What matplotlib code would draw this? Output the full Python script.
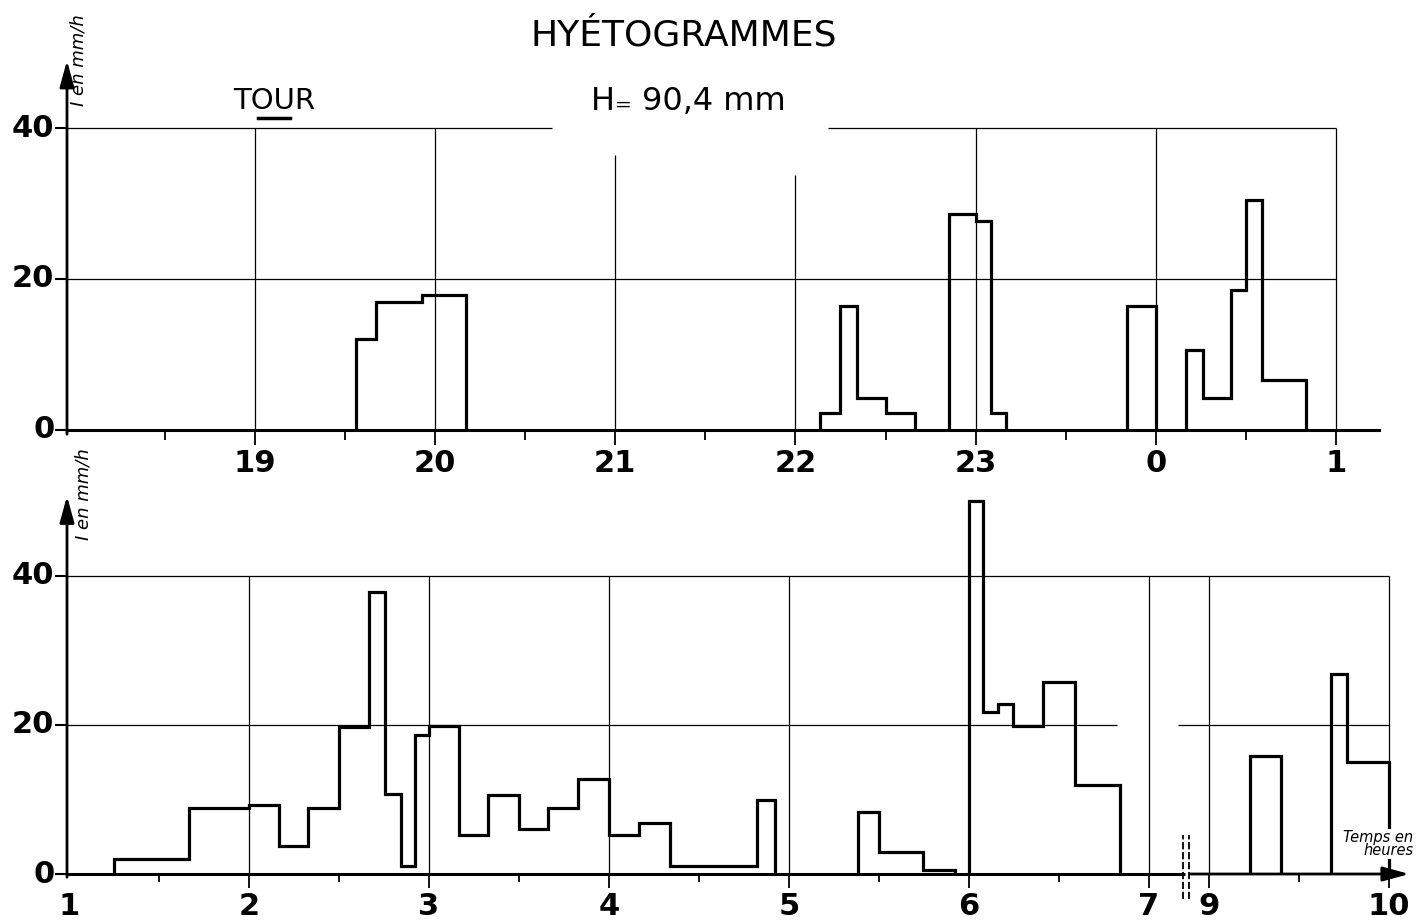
import matplotlib.pyplot as plt

# --- data (intensity in mm/h) ---
# top panel: evening of day 1, hours counted continuously (24 = 0h, 25 = 1h)
top_edges_a = [19.56, 19.67, 19.93, 20.17]
top_vals_a = [12.0, 16.9, 17.9]
top_edges_b = [22.135, 22.245, 22.34, 22.50, 22.665]
top_vals_b = [2.2, 16.4, 4.2, 2.2]
top_edges_c = [22.85, 23.0, 23.087, 23.167]
top_vals_c = [28.6, 27.7, 2.2]
top_edges_d = [23.84, 24.0]
top_vals_d = [16.4]
top_edges_e = [24.17, 24.26, 24.416, 24.50, 24.59, 24.836]
top_vals_e = [10.6, 4.3, 18.5, 30.5, 6.6]
top_hours = [19, 20, 21, 22, 23, 24, 25]
top_labels = ["19", "20", "21", "22", "23", "0", "1"]

# bottom panel: hours 1 to 10 (axis broken between 7 and 9)
bot_edges_a = [1.25, 1.667, 2.0, 2.167, 2.33, 2.5, 2.667, 2.756, 2.843, 2.922,
               3.0, 3.167, 3.33, 3.5, 3.66, 3.83, 4.0, 4.165, 4.34, 4.82, 4.92]
bot_vals_a = [2.0, 8.8, 9.3, 3.7, 8.8, 19.7, 37.8, 10.8, 1.1, 18.6,
              19.9, 5.2, 10.6, 6.0, 8.8, 12.7, 5.2, 6.9, 1.1, 9.9]
bot_edges_b = [5.385, 5.50, 5.746, 5.92]
bot_vals_b = [8.3, 2.9, 0.6]
bot_edges_c = [6.0, 6.08, 6.16, 6.245, 6.41, 6.59, 6.84]
bot_vals_c = [50.0, 21.8, 22.8, 19.9, 25.8, 11.9]
bot_edges_d = [9.227, 9.40]
bot_vals_d = [15.9]
bot_edges_e = [9.677, 9.765, 10.0]
bot_vals_e = [26.9, 15.0]
bot_hours = [1, 2, 3, 4, 5, 6, 7, 9, 10]

y_ticks = [0, 20, 40]

BREAK = 5 / 3  # hours cut out between 7 and 9


def bx(h):
    # position on the broken bottom axis
    return h - BREAK if h > 8 else h


NUM = dict(fontsize=22, fontweight='bold', family='DejaVu Sans', color='k')
HIST = dict(color='k', lw=2.3)
GRID = dict(color='k', lw=0.9)
ARROW = dict(arrowstyle='-|>,head_width=0.22,head_length=0.8',
             lw=2, color='k', mutation_scale=20)

fig = plt.figure(figsize=(14.16, 9.22), dpi=100)

# ---------------- top panel ----------------
ax1 = fig.add_axes([67 / 1416, (922 - 437) / 922, (1381 - 67) / 1416, (437 - 55) / 922])
x0_top, x1_top = 17.957, 25.25
ax1.set_xlim(x0_top, x1_top)
ax1.set_ylim(-0.93, 49.67)
ax1.axis('off')

# grid
for h in top_hours:
    ytop = 40
    if h == 21:
        ytop = 36.4
    if h == 22:
        ytop = 33.8
    ax1.vlines(h, 0, ytop, **GRID)
    ax1.vlines(h, 0, -2.0, color='k', lw=1.3, clip_on=False)
for h in [18.5, 19.5, 20.5, 21.5, 22.5, 23.5, 24.5]:
    ax1.vlines(h, 0, -1.3, color='k', lw=1.3, clip_on=False)
ax1.hlines(20, x0_top, 25, **GRID)
ax1.hlines(40, x0_top, 20.65, **GRID)
ax1.hlines(40, 22.18, 25, **GRID)

for e, v in [(top_edges_a, top_vals_a), (top_edges_b, top_vals_b),
             (top_edges_c, top_vals_c), (top_edges_d, top_vals_d),
             (top_edges_e, top_vals_e)]:
    ax1.stairs(v, e, baseline=0, **HIST)

# axes
ax1.hlines(0, x0_top, x1_top, color='k', lw=2.2)
ax1.annotate('', xy=(x0_top, 49.3), xytext=(x0_top, -0.93), arrowprops=ARROW)
for y in y_ticks:
    ax1.hlines(y, x0_top - 0.065, x0_top, color='k', lw=1.5, clip_on=False)
    ax1.text(x0_top - 0.07, y, str(y), ha='right', va='center', clip_on=False, **NUM)
for h, lab in zip(top_hours, top_labels):
    ax1.text(h, -4.4, lab, ha='center', va='center', clip_on=False, **NUM)
ax1.text(x0_top + 0.065, 49.0, "I en mm/h", rotation=90, fontsize=13, style='italic',
         ha='center', va='center', clip_on=False)

# ---------------- bottom panel ----------------
ax2 = fig.add_axes([67 / 1416, (922 - 905) / 922, (1416 - 67) / 1416, (905 - 490) / 922])
x0_bot, x1_bot = 0.989, 8.483
ax2.set_xlim(x0_bot, x1_bot)
ax2.set_ylim(-4.16, 51.54)
ax2.axis('off')

for h in bot_hours[1:]:
    ax2.vlines(bx(h), 0, 40, **GRID)
    ax2.vlines(bx(h), 0, -1.9, color='k', lw=1.3, clip_on=False)
for h in [1.5, 2.5, 3.5, 4.5, 5.5, 6.5, 9.5]:
    ax2.vlines(bx(h), 0, -1.1, color='k', lw=1.3, clip_on=False)
ax2.hlines(40, x0_bot, bx(10), **GRID)
ax2.hlines(20, x0_bot, 6.82, **GRID)
ax2.hlines(20, 7.16, bx(10), **GRID)

for e, v in [(bot_edges_a, bot_vals_a), (bot_edges_b, bot_vals_b),
             (bot_edges_c, bot_vals_c), (bot_edges_d, bot_vals_d),
             (bot_edges_e, bot_vals_e)]:
    ax2.stairs(v, [bx(h) for h in e], baseline=0, **HIST)

# axes with break
ax2.hlines(0, x0_bot, 7.198, color='k', lw=2.2)
ax2.annotate('', xy=(8.461, 0), xytext=(7.214, 0), arrowprops=ARROW)
for xb in [7.187, 7.224]:
    ax2.vlines(xb, -3.4, 5.2, color='k', lw=1.3, linestyles=(0, (4, 1.5)), clip_on=False)
ax2.annotate('', xy=(x0_bot, 51.1), xytext=(x0_bot, -0.8), arrowprops=ARROW)
for y in y_ticks:
    ax2.hlines(y, x0_bot - 0.065, x0_bot, color='k', lw=1.5, clip_on=False)
    ax2.text(x0_bot - 0.07, y, str(y), ha='right', va='center', clip_on=False, **NUM)
for h in bot_hours:
    ax2.text(bx(h), -4.3, str(h), ha='center', va='center', clip_on=False, **NUM)
ax2.text(x0_bot + 0.09, 51.0, "I en mm/h", rotation=90, fontsize=13, style='italic',
         ha='center', va='center', clip_on=False)
ax2.text(8.468, 4.0, "Temps en\nheures", fontsize=10.5, style='italic', ha='right',
         va='center', linespacing=0.8, clip_on=False, zorder=5,
         bbox=dict(facecolor='white', edgecolor='none', pad=1))

# ---------------- titles ----------------
fig.text(684 / 1416, 1 - 35 / 922, "HYÉTOGRAMMES", fontsize=26, ha='center', va='center')
fig.text(274 / 1416, 1 - 101 / 922, "TOUR", fontsize=21, ha='center', va='center')
fig.add_artist(plt.Line2D([258 / 1416, 290 / 1416], [1 - 118 / 922, 1 - 118 / 922],
                          color='k', lw=2.5))
fig.text(688 / 1416, 1 - 101 / 922, "H₌ 90,4 mm", fontsize=23, ha='center', va='center')

fig.savefig('out.png', dpi=100, facecolor='white')
